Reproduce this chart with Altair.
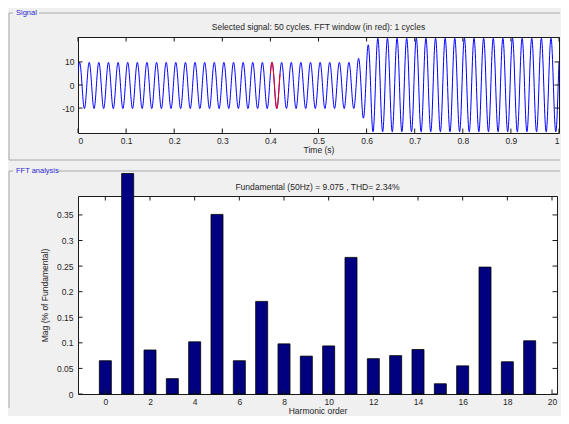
import altair as alt
import numpy as np
import pandas as pd

# ---------------- data ----------------
harmonic_order = list(range(20))
harmonic_mag = [0.065, 0.431, 0.086, 0.030, 0.102, 0.351, 0.065, 0.181, 0.098, 0.074,
                0.094, 0.267, 0.069, 0.075, 0.087, 0.020, 0.055, 0.248, 0.063, 0.104]

# peak magnitude of each half cycle of the 50 Hz signal (101 half cycles over 0..1 s)
half_cycle_peaks = ([9.8, 10.2] * 29) + [11.5, 14.4, 17.4] + [20.3] * 40

time_ticks = [0, 0.1, 0.2, 0.3, 0.4, 0.5, 0.6, 0.7, 0.8, 0.9, 1]
signal_ticks = [-10, 0, 10]
harm_ticks = [0, 2, 4, 6, 8, 10, 12, 14, 16, 18, 20]
mag_ticks = [0, 0.05, 0.1, 0.15, 0.2, 0.25, 0.3, 0.35]

fft_window = [0.4, 0.42]
f0 = 50
phase0 = np.pi / 6

signal_title = "Selected signal: 50 cycles. FFT window (in red): 1 cycles"
fft_title = "Fundamental (50Hz) = 9.075 , THD= 2.34%"

# ---------------- signal samples ----------------
t = np.round(np.arange(0, 1.00001, 0.0005), 5)
ph = 2 * np.pi * f0 * t + phase0
k = np.minimum((ph // np.pi).astype(int), len(half_cycle_peaks) - 1)
v = np.array(half_cycle_peaks)[k] * np.sin(ph)
sig_df = pd.DataFrame({"t": t, "v": v})
red_df = sig_df[(sig_df.t >= fft_window[0]) & (sig_df.t <= fft_window[1])]

FONT = "Liberation Sans"
TXT = "#262626"
FS = 8.5
W1, H1 = 481, 96
W2, H2 = 479, 198
SPACING = 63
FX = -69          # frame line, relative to plot left
TK = 4.5
FRAME = "#a9a9a9"
LBL = "#2a2ad0"
one = pd.DataFrame({"a": [0]})

xs1 = alt.Scale(domain=[0, 1], nice=False, zero=False)
ys1 = alt.Scale(domain=[-20.8, 20.8], nice=False, zero=False)
xs2 = alt.Scale(domain=[-1, 20], nice=False, zero=False)
ys2 = alt.Scale(domain=[0, 0.387], nice=False, zero=False)

axis_common = dict(ticks=False, domain=False, grid=False, labelFont=FONT, labelFontSize=FS,
                   labelColor=TXT, titleFont=FONT, titleFontSize=FS, titleColor=TXT,
                   titleFontWeight="normal", labelOverlap=False)

ax_time = alt.Axis(values=time_ticks, format="~g", title="Time (s)",
                   labelPadding=3, titlePadding=1, **axis_common)
ax_sig = alt.Axis(values=signal_ticks, labelExpr="'' + datum.value", title=None,
                  labelPadding=4, **axis_common)
ax_harm = alt.Axis(values=harm_ticks, format="~g", title="Harmonic order",
                   labelPadding=3, titlePadding=1, **axis_common)
ax_mag = alt.Axis(values=mag_ticks, format="~g", title="Mag (% of Fundamental)",
                  labelPadding=5, titlePadding=7, **axis_common)


def ticks(values, field, scale, axis, horizontal, length, size):
    df = pd.DataFrame({field: values})
    base = alt.Chart(df).mark_rule(color="#1a1a1a", strokeWidth=1)
    if not horizontal:
        enc = alt.X(f"{field}:Q", scale=scale, axis=axis)
        a = base.encode(x=enc, y=alt.value(0), y2=alt.value(length))
        b = base.encode(x=enc, y=alt.value(size - length), y2=alt.value(size))
    else:
        enc = alt.Y(f"{field}:Q", scale=scale, axis=axis)
        a = base.encode(y=enc, x=alt.value(0), x2=alt.value(length))
        b = base.encode(y=enc, x=alt.value(size - length), x2=alt.value(size))
    return [a, b]


def hrule(x1, x2, y):
    return alt.Chart(one).mark_rule(color=FRAME, strokeWidth=1).encode(
        x=alt.value(x1), x2=alt.value(x2), y=alt.value(y))


def vrule(x, y1, y2):
    return alt.Chart(one).mark_rule(color=FRAME, strokeWidth=1).encode(
        x=alt.value(x), y=alt.value(y1), y2=alt.value(y2))


def label(txt, x, y, color=LBL, size=7.5, align="left"):
    return alt.Chart(one).mark_text(text=txt, color=color, fontSize=size, font=FONT,
                                    align=align, baseline="middle").encode(
        x=alt.value(x), y=alt.value(y))


# ---------------- signal panel ----------------
blue = alt.Chart(sig_df).mark_line(color="#0000ff", strokeWidth=1, clip=True).encode(
    x=alt.X("t:Q", scale=xs1, axis=ax_time),
    y=alt.Y("v:Q", scale=ys1, axis=ax_sig),
)
red = alt.Chart(red_df).mark_line(color="#ff0000", strokeWidth=1, clip=True).encode(
    x=alt.X("t:Q", scale=xs1, axis=ax_time), y=alt.Y("v:Q", scale=ys1, axis=ax_sig))

sig_layers = [blue, red]
sig_layers += ticks(time_ticks, "t", xs1, ax_time, False, TK, H1)
sig_layers += ticks(signal_ticks, "v", ys1, ax_sig, True, TK, W1)
sig_layers += [hrule(FX, FX + 4, -24), hrule(FX + 30, W1 + 1, -24), vrule(FX, -24, 123),
               hrule(FX, W1 + 1, 123), label("Signal", FX + 7, -24),
               label(signal_title, W1 / 2, -10, TXT, FS, "center")]

signal = alt.layer(*sig_layers).properties(width=W1, height=H1)

# ---------------- FFT panel ----------------
fft_df = pd.DataFrame({"h": harmonic_order, "m": harmonic_mag})
bars = alt.Chart(fft_df).mark_bar(size=12, color="#000080", stroke="#000000",
                                  strokeWidth=0.8, clip=False).encode(
    x=alt.X("h:Q", scale=xs2, axis=ax_harm),
    y=alt.Y("m:Q", scale=ys2, axis=ax_mag),
)
fft_layers = [bars]
fft_layers += ticks(harm_ticks, "h", xs2, ax_harm, False, TK, H2)
fft_layers += ticks(mag_ticks, "m", ys2, ax_mag, True, TK, W2)
fft_layers += [hrule(FX, FX + 4, -25), hrule(FX + 48, W2 + 3, -25), vrule(FX, -25, H2 + 14),
               label("FFT analysis", FX + 7, -25),
               label(fft_title, W2 / 2, -9, TXT, FS, "center")]

fft = alt.layer(*fft_layers).properties(width=W2, height=H2)

chart = alt.vconcat(signal, fft, spacing=SPACING, bounds="flush").properties(
    background="#f0f0f0", padding=0
).configure_view(fill="#ffffff", stroke="#1a1a1a", strokeWidth=1)

chart.save("out.html", embed_options={"renderer": "svg", "actions": False})
